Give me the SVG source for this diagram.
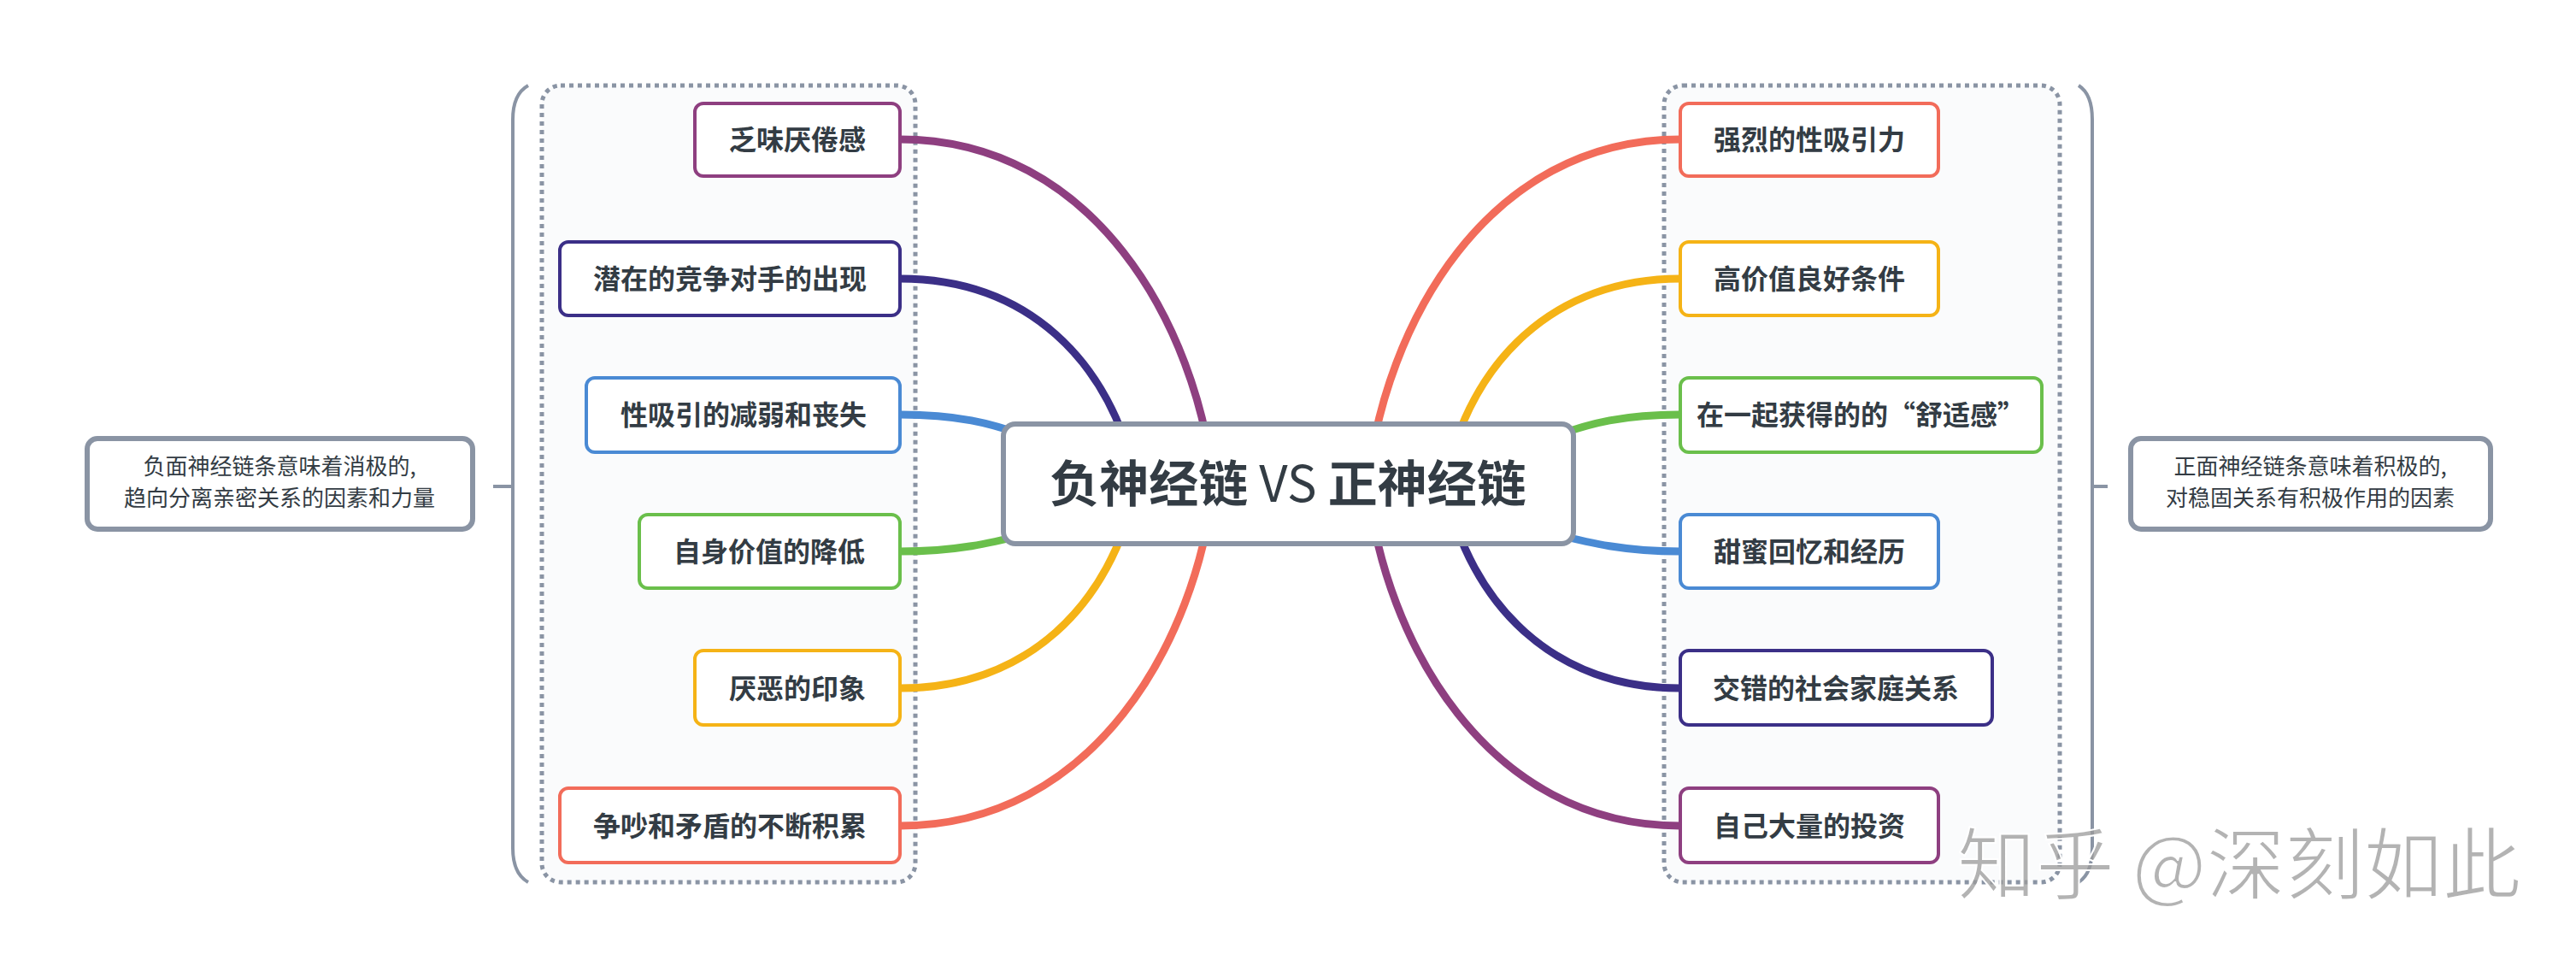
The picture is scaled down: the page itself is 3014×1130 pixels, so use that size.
<svg xmlns="http://www.w3.org/2000/svg" width="3014" height="1130" viewBox="0 0 3014 1130">
<style>
.grp{fill:#fafbfc;stroke:#8a94a4;stroke-width:5;stroke-dasharray:5 5}
.br{fill:none;stroke:#8a94a4;stroke-width:4}
.note{fill:#fff;stroke:#8a94a4;stroke-width:6}
.nt{font-family:"Noto Sans CJK SC","Noto Sans",sans-serif;font-size:26px;fill:#333c44;text-anchor:middle}
.n{fill:#fff;stroke-width:4}
.t{font-family:"Noto Sans CJK SC","Noto Sans",sans-serif;font-size:32px;font-weight:bold;fill:#333c44;text-anchor:middle}
.c{fill:none;stroke-width:9;stroke-linecap:round}
</style>
<rect width="3014" height="1130" fill="#fff"/>
<rect class="grp" x="634" y="100" width="437" height="932" rx="22"/>
<rect class="grp" x="1947" y="100" width="463" height="932" rx="22"/>
<path class="br" d="M618,100 Q600,110 600,140 L600,992 Q600,1022 618,1032 M577,569 L600,569"/>
<path class="br" d="M2432,100 Q2448,110 2448,140 L2448,992 Q2448,1022 2432,1032 M2448,569 L2466,569"/>
<g id="note-left"><rect class="note" x="102" y="513" width="451" height="106" rx="12"/>
<text class="nt" x="327" y="555">负面神经链条意味着消极的,</text><text class="nt" x="327" y="592">趋向分离亲密关系的因素和力量</text></g>
<g id="note-right"><rect class="note" x="2493" y="513" width="421" height="106" rx="12"/>
<text class="nt" x="2703" y="555">正面神经链条意味着积极的,</text><text class="nt" x="2703" y="592">对稳固关系有积极作用的因素</text></g>
<g id="connectors">
<path class="c" stroke="#8e3f80" d="M1053,163 C1280,163 1400,380 1420,566"/>
<path class="c" stroke="#3b2f87" d="M1053,326 C1200,326 1300,420 1330,566"/>
<path class="c" stroke="#4a8ad4" d="M1053,485 C1120,485 1160,495 1200,510"/>
<path class="c" stroke="#6abf4b" d="M1053,645 C1120,645 1160,635 1200,625"/>
<path class="c" stroke="#f5b316" d="M1053,805 C1200,805 1300,710 1330,566"/>
<path class="c" stroke="#f26c5a" d="M1053,966 C1280,966 1400,750 1420,566"/>
<path class="c" stroke="#f26c5a" d="M1966,163 C1740,163 1620,380 1600,566"/>
<path class="c" stroke="#f5b316" d="M1966,326 C1820,326 1720,420 1690,566"/>
<path class="c" stroke="#6abf4b" d="M1966,485 C1900,485 1860,495 1820,510"/>
<path class="c" stroke="#4a8ad4" d="M1966,645 C1900,645 1860,635 1820,625"/>
<path class="c" stroke="#3b2f87" d="M1966,805 C1820,805 1720,710 1690,566"/>
<path class="c" stroke="#8e3f80" d="M1966,966 C1740,966 1620,750 1600,566"/>
</g>
<g id="center"><rect x="1174" y="496" width="667" height="140" rx="14" fill="#fff" stroke="#8a94a4" stroke-width="6"/>
<text x="1507" y="587" font-family="'Noto Sans CJK SC','Noto Sans',sans-serif" font-size="58" font-weight="bold" fill="#333c44" text-anchor="middle">负神经链 <tspan font-weight="normal">VS</tspan> 正神经链</text></g>
<g id="l1"><rect class="n" stroke="#8e3f80" x="813" y="121" width="240" height="85" rx="10"/><text class="t" x="933" y="175">乏味厌倦感</text></g>
<g id="l2"><rect class="n" stroke="#3b2f87" x="655" y="283" width="398" height="86" rx="10"/><text class="t" x="854" y="338">潜在的竞争对手的出现</text></g>
<g id="l3"><rect class="n" stroke="#4a8ad4" x="686" y="442" width="367" height="87" rx="10"/><text class="t" x="870" y="497">性吸引的减弱和丧失</text></g>
<g id="l4"><rect class="n" stroke="#6abf4b" x="748" y="602" width="305" height="86" rx="10"/><text class="t" x="900" y="657">自身价值的降低</text></g>
<g id="l5"><rect class="n" stroke="#f5b316" x="813" y="761" width="240" height="87" rx="10"/><text class="t" x="933" y="817">厌恶的印象</text></g>
<g id="l6"><rect class="n" stroke="#f26c5a" x="655" y="922" width="398" height="87" rx="10"/><text class="t" x="854" y="978">争吵和矛盾的不断积累</text></g>
<g id="r1"><rect class="n" stroke="#f26c5a" x="1966" y="121" width="302" height="85" rx="10"/><text class="t" x="2117" y="175">强烈的性吸引力</text></g>
<g id="r2"><rect class="n" stroke="#f5b316" x="1966" y="283" width="302" height="86" rx="10"/><text class="t" x="2117" y="338">高价值良好条件</text></g>
<g id="r3"><rect class="n" stroke="#6abf4b" x="1966" y="442" width="423" height="87" rx="10"/><text class="t" x="2177" y="497">在一起获得的的“舒适感”</text></g>
<g id="r4"><rect class="n" stroke="#4a8ad4" x="1966" y="602" width="302" height="86" rx="10"/><text class="t" x="2117" y="657">甜蜜回忆和经历</text></g>
<g id="r5"><rect class="n" stroke="#3b2f87" x="1966" y="761" width="365" height="87" rx="10"/><text class="t" x="2148" y="817">交错的社会家庭关系</text></g>
<g id="r6"><rect class="n" stroke="#8e3f80" x="1966" y="922" width="302" height="87" rx="10"/><text class="t" x="2117" y="978">自己大量的投资</text></g>
<text x="2290" y="1045" font-family="'Noto Sans CJK SC',sans-serif" font-size="92" fill="#9a9a9a" fill-opacity="0.75" stroke="#fff" stroke-width="2">知乎 @深刻如此</text>
</svg>
